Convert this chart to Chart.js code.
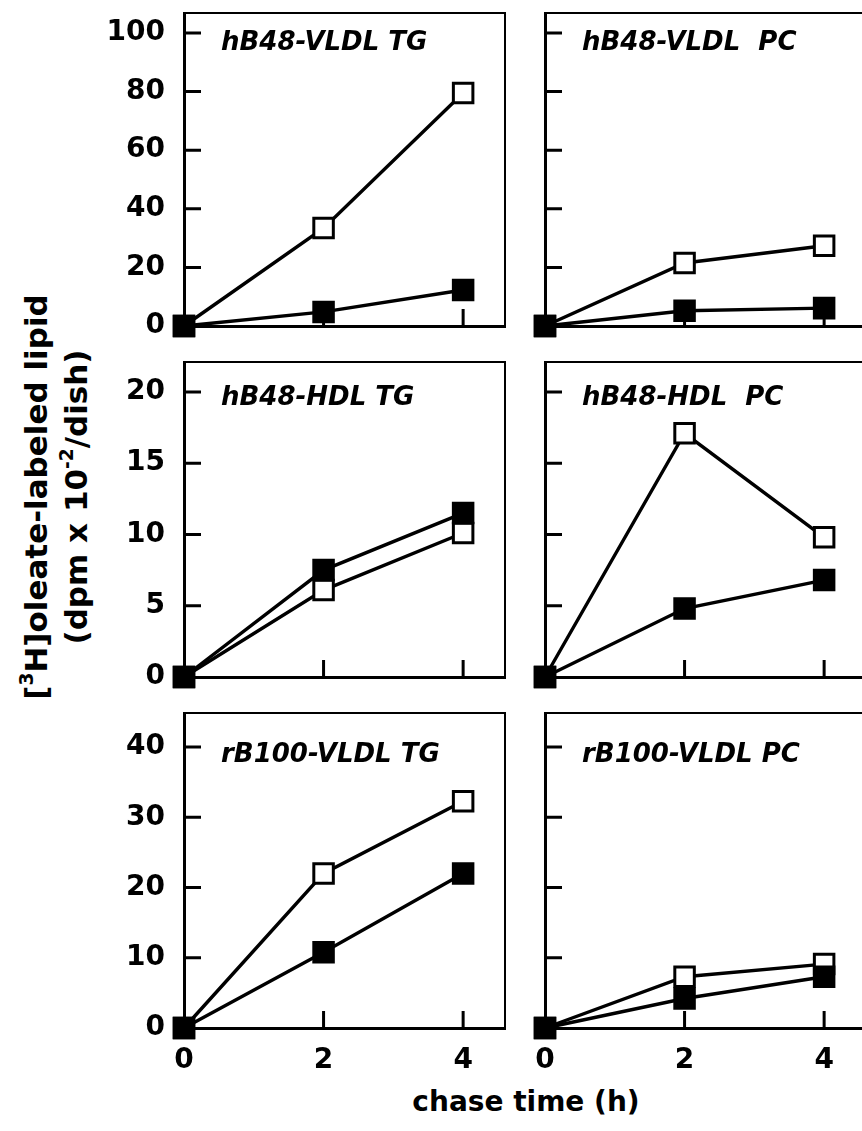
<!DOCTYPE html>
<html>
<head>
<meta charset="utf-8">
<script src="https://cdn.jsdelivr.net/npm/chart.js@4/dist/chart.umd.min.js"></script>
<style>
  html, body { margin: 0; padding: 0; background: #fff; }
  body { width: 862px; height: 1131px; position: relative; overflow: hidden; }
  .panel { position: absolute; }
  .axis-title { position: absolute; color: #000; font-family: "DejaVu Sans", sans-serif; font-weight: bold; white-space: nowrap; }
  #ytitle { left: 56px; top: 497px; transform: translate(-50%, -50%) rotate(-90deg); text-align: center; font-size: 31px; line-height: 40px; }
  #ytitle sup { font-size: 0.6em; line-height: 0; vertical-align: 0.75em; }
  #xtitle { left: 526px; top: 1101px; transform: translate(-50%, -50%); font-size: 28px; }
</style>
</head>
<body>
<div id="ytitle" class="axis-title">[<sup>3</sup>H]oleate-labeled lipid<br>(dpm x 10<sup>-2</sup>/dish)</div>
<div id="xtitle" class="axis-title">chase time (h)</div>

<script>
// chase time points (h)
const chaseTime = [0, 2, 4];
const xTickLabels = [0, 2, 4];

// y tick values for each row of panels
const yTicksVldl = [0, 20, 40, 60, 80, 100];
const yTicksHdl = [0, 5, 10, 15, 20];
const yTicksB100 = [0, 10, 20, 30, 40];

// panel titles
const panelTitles = [
  'hB48-VLDL TG', 'hB48-VLDL  PC',
  'hB48-HDL TG', 'hB48-HDL  PC',
  'rB100-VLDL TG', 'rB100-VLDL PC'
];

// [3H]oleate-labeled lipid, open and filled squares
const hB48VldlTgOpen   = [0, 33.4, 79.5];
const hB48VldlTgFilled = [0, 4.8, 12.3];
const hB48VldlPcOpen   = [0, 21.5, 27.4];
const hB48VldlPcFilled = [0, 5.2, 6.1];
const hB48HdlTgOpen    = [0, 6.1, 10.1];
const hB48HdlTgFilled  = [0, 7.5, 11.5];
const hB48HdlPcOpen    = [0, 17.1, 9.8];
const hB48HdlPcFilled  = [0, 4.8, 6.8];
const rB100TgOpen      = [0, 22.0, 32.3];
const rB100TgFilled    = [0, 10.8, 22.0];
const rB100PcOpen      = [0, 7.3, 9.1];
const rB100PcFilled    = [0, 4.2, 7.3];

// plot-area geometry (page pixels)
const COLS = [{ left: 184, right: 505 }, { left: 545, right: 866 }];
const ROWS = [
  { top: 13,  bottom: 326,  yMax: 106.8, ticks: yTicksVldl, titleBase: 37 },
  { top: 362, bottom: 677,  yMax: 22.1,  ticks: yTicksHdl,  titleBase: 43 },
  { top: 713, bottom: 1028, yMax: 44.85, ticks: yTicksB100, titleBase: 49 }
];
const X_MAX = 4.6;
// outer padding is kept larger than the scales' own label padding,
// so the plot area lands exactly where it is placed
const AXIS_W = 110, AXIS_H = 62, PAD_T = 50, PAD_R = 50;

const FONT = '"DejaVu Sans", sans-serif';

// frame (top/right), inward tick marks and the panel label
const panelDecor = {
  id: 'panelDecor',
  beforeDatasetsDraw(chart, args, opts) {
    const { ctx, chartArea: a, scales: { x, y } } = chart;
    ctx.save();
    ctx.strokeStyle = '#000';
    ctx.lineCap = 'butt';
    ctx.lineWidth = 2;
    ctx.beginPath();
    ctx.moveTo(a.left, a.top);
    ctx.lineTo(a.right, a.top);
    ctx.lineTo(a.right, a.bottom);
    ctx.stroke();
    ctx.lineWidth = 3;
    ctx.beginPath();
    y.ticks.forEach(t => {
      if (t.value === 0) return;
      const py = y.getPixelForValue(t.value);
      ctx.moveTo(a.left, py);
      ctx.lineTo(a.left + 17, py);
    });
    x.ticks.forEach(t => {
      if (t.value === 0) return;
      const px = x.getPixelForValue(t.value);
      ctx.moveTo(px, a.bottom);
      ctx.lineTo(px, a.bottom - 17);
    });
    ctx.stroke();
    ctx.fillStyle = '#000';
    ctx.font = 'italic bold 26px ' + FONT;
    ctx.textBaseline = 'alphabetic';
    ctx.textAlign = 'left';
    ctx.fillText(opts.text, a.left + 37, a.top + opts.base);
    ctx.restore();
  }
};

function makePanel(row, col, title, openVals, filledVals) {
  const R = ROWS[row], C = COLS[col];
  const w = (C.right - C.left) + AXIS_W + PAD_R;
  const h = (R.bottom - R.top) + PAD_T + AXIS_H;
  const div = document.createElement('div');
  div.className = 'panel';
  div.style.left = (C.left - AXIS_W) + 'px';
  div.style.top = (R.top - PAD_T) + 'px';
  div.style.width = w + 'px';
  div.style.height = h + 'px';
  const canvas = document.createElement('canvas');
  canvas.width = w; canvas.height = h;
  canvas.style.width = w + 'px'; canvas.style.height = h + 'px';
  div.appendChild(canvas);
  document.body.appendChild(div);

  const pts = v => chaseTime.map((t, i) => ({ x: t, y: v[i] }));
  const common = {
    showLine: true, borderColor: '#000', borderWidth: 3.4,
    pointStyle: 'rect', pointRadius: 13.8, pointHoverRadius: 13.8,
    pointBorderColor: '#000', pointBorderWidth: 3, clip: false
  };

  new Chart(canvas, {
    type: 'scatter',
    data: {
      datasets: [
        Object.assign({ label: 'filled', data: pts(filledVals), pointBackgroundColor: '#000' }, common),
        Object.assign({ label: 'open', data: pts(openVals), pointBackgroundColor: '#fff' }, common)
      ]
    },
    options: {
      responsive: false,
      animation: false,
      events: [],
      layout: { padding: { left: 0, top: PAD_T, right: PAD_R, bottom: 0 } },
      plugins: {
        legend: { display: false },
        tooltip: { enabled: false },
        panelDecor: { text: title, base: R.titleBase }
      },
      scales: {
        x: {
          type: 'linear', min: 0, max: X_MAX,
          afterBuildTicks: s => { s.ticks = xTickLabels.map(v => ({ value: v })); },
          afterFit: s => { s.height = AXIS_H; },
          grid: { display: false, drawTicks: false },
          border: { display: true, color: '#000', width: 3 },
          ticks: {
            display: row === 2, padding: 16, color: '#000',
            font: { family: FONT, weight: 'bold', size: 28 }
          }
        },
        y: {
          type: 'linear', min: 0, max: R.yMax,
          afterBuildTicks: s => { s.ticks = R.ticks.map(v => ({ value: v })); },
          afterFit: s => { s.width = AXIS_W; },
          grid: { display: false, drawTicks: false },
          border: { display: true, color: '#000', width: 3 },
          ticks: {
            display: col === 0, padding: 19, color: '#000',
            font: { family: FONT, weight: 'bold', size: 28 }
          }
        }
      }
    },
    plugins: [panelDecor]
  });
}

makePanel(0, 0, panelTitles[0], hB48VldlTgOpen, hB48VldlTgFilled);
makePanel(0, 1, panelTitles[1], hB48VldlPcOpen, hB48VldlPcFilled);
makePanel(1, 0, panelTitles[2], hB48HdlTgOpen, hB48HdlTgFilled);
makePanel(1, 1, panelTitles[3], hB48HdlPcOpen, hB48HdlPcFilled);
makePanel(2, 0, panelTitles[4], rB100TgOpen, rB100TgFilled);
makePanel(2, 1, panelTitles[5], rB100PcOpen, rB100PcFilled);
</script>
</body>
</html>
